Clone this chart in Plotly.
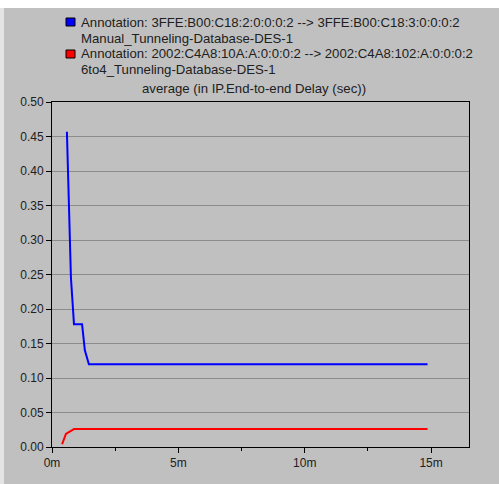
import plotly.graph_objects as go

# Data (time in minutes, delay in seconds)
blue_t = [0.59, 0.75, 0.87, 1.19, 1.30, 1.46, 14.86]
blue_v = [0.457, 0.245, 0.178, 0.178, 0.140, 0.120, 0.120]
red_t = [0.40, 0.55, 0.87, 14.86]
red_v = [0.004, 0.019, 0.026, 0.026]

x_tickvals = [0, 5, 10, 15]
x_ticktext = ["0m", "5m", "10m", "15m"]
y_tickvals = [0, 0.05, 0.10, 0.15, 0.20, 0.25, 0.30, 0.35, 0.40, 0.45, 0.50]

legend_lines = [
    ("Annotation: 3FFE:B00:C18:2:0:0:0:2 --> 3FFE:B00:C18:3:0:0:0:2", "Manual_Tunneling-Database-DES-1", "#0000FF"),
    ("Annotation: 2002:C4A8:10A:A:0:0:0:2 --> 2002:C4A8:102:A:0:0:0:2", "6to4_Tunneling-Database-DES-1", "#FF0000"),
]
title_text = "average (in IP.End-to-end Delay (sec))"

W, H = 499, 484
L, R, T, B = 52, 30, 102, 37

fig = go.Figure()
fig.add_trace(go.Scatter(x=blue_t, y=blue_v, mode="lines",
                         line=dict(color="#0000FF", width=2), showlegend=False))
fig.add_trace(go.Scatter(x=red_t, y=red_v, mode="lines",
                         line=dict(color="#FF0000", width=2), showlegend=False))

tick_font = dict(family="Liberation Sans, Arial, sans-serif", size=12, color="#202020")
text_font = dict(family="Liberation Sans, Arial, sans-serif", size=13.2, color="#202020")

fig.update_layout(
    width=W, height=H,
    margin=dict(l=L, r=R, t=T, b=B, pad=0),
    paper_bgcolor="#FFFFFF",
    plot_bgcolor="#F0F0F0",
    font=tick_font,
    xaxis=dict(range=[0, 16.5], tickvals=x_tickvals, ticktext=x_ticktext,
               showgrid=False, zeroline=False, ticks="outside", ticklen=5,
               tickcolor="#000", showline=True, linecolor="#000", linewidth=1,
               mirror=True, tickfont=tick_font,
               minor=dict(tickvals=[2.5, 7.5, 12.5], ticks="outside", ticklen=3, tickcolor="#000")),
    yaxis=dict(range=[0, 0.5], tickvals=y_tickvals, tickformat=".2f",
               showgrid=True, gridcolor="#8C8C8C", gridwidth=1, zeroline=False,
               ticks="outside", ticklen=5, tickcolor="#000", showline=True,
               linecolor="#000", linewidth=1, mirror=True, tickfont=tick_font),
)

plot_w = W - L - R
plot_h = H - T - B

def px_x(px):
    return (px - L) / plot_w

def px_y(py):
    return (H - B - py) / plot_h

shapes = [
    dict(type="rect", xref="paper", yref="paper", x0=px_x(4), x1=px_x(W),
         y0=px_y(H), y1=px_y(8),
         fillcolor="#C0C0C0", line=dict(width=0), layer="below"),
    dict(type="rect", xref="paper", yref="paper", x0=px_x(0), x1=px_x(4),
         y0=px_y(H), y1=px_y(8),
         fillcolor="#E4E4E4", line=dict(width=0), layer="below"),
]
annotations = []

rows = [22, 38, 54, 70]
for i, (l1, l2, col) in enumerate(legend_lines):
    y1 = rows[2 * i]
    y2 = rows[2 * i + 1]
    shapes.append(dict(type="rect", xref="paper", yref="paper",
                       x0=px_x(66), x1=px_x(75), y0=px_y(y1 + 4), y1=px_y(y1 - 4),
                       fillcolor=col, line=dict(color="#000000", width=1)))
    annotations.append(dict(text=l1, xref="paper", yref="paper", x=px_x(79), y=px_y(y1),
                            xanchor="left", yanchor="middle", showarrow=False, font=text_font))
    annotations.append(dict(text=l2, xref="paper", yref="paper", x=px_x(79), y=px_y(y2),
                            xanchor="left", yanchor="middle", showarrow=False, font=text_font))

annotations.append(dict(text=title_text, xref="paper", yref="paper", x=px_x(254), y=px_y(89),
                        xanchor="center", yanchor="middle", showarrow=False, font=text_font))

fig.update_layout(shapes=shapes, annotations=annotations)
fig.write_html("out.html")
